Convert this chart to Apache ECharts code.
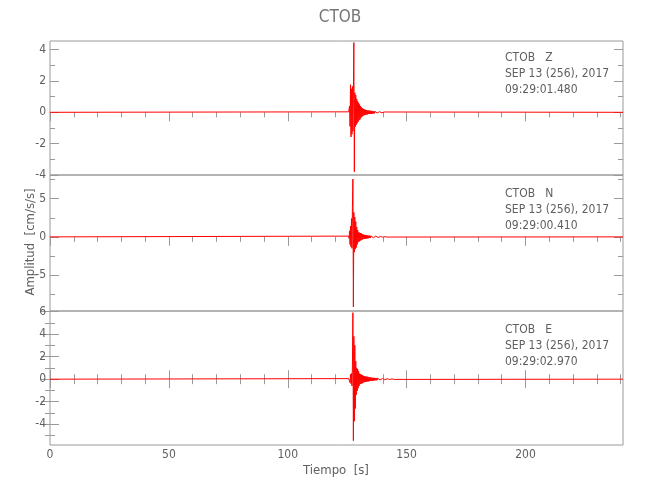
<!DOCTYPE html>
<html><head><meta charset="utf-8">
<script src="https://cdn.jsdelivr.net/npm/echarts@6/dist/echarts.min.js"></script>
<style>html,body{margin:0;padding:0;background:#fff}#c{width:650px;height:500px}</style>
</head><body><div id="c"></div>
<script>
// ---- data ----
const stationName = 'CTOB';
const components = ['Z', 'N', 'E'];
const dateLabel = 'SEP 13 (256), 2017';
const startTimes = ['09:29:01.480', '09:29:00.410', '09:29:02.970'];
const timeRange = [0, 241];
const sampleStart = 125.6;   // s, first hand-read sample of the burst
const sampleStep = 0.2;      // s
const zValues = [0.03,-0.05,0.4,-0.9,1.76,-1.57,1.5,-1.4,1.65,-1.2,1.3,4.45,-3.79,1.25,-0.92,1.1,-0.8,0.85,-0.7,0.7,-0.6,0.6,-0.5,0.5,-0.45,0.4,-0.35,0.32,-0.28,0.26,-0.24,0.22,-0.2,0.19,-0.17,0.16,-0.15,0.15,-0.14,0.13,-0.13,0.12,-0.11,0.11,-0.1,0.1,-0.09,0.1,-0.09,0.08,-0.08,0.08,-0.07,0.07,-0.07,0.06,-0.06,0.06,-0.06,0.05,-0.05,0.05,-0.05,0.04,-0.04,0.04,-0.04,0.04,-0.03,0.03,-0.03,0.03,-0.03,0.02,-0.02,0.02,-0.02,0.02];
const nValues = [0.1,-0.2,0.8,-1.0,1.4,-1.3,2.4,-1.5,3.87,7.56,-9.17,3.2,-2.0,2.6,-1.6,2.0,-1.4,1.3,-1.0,0.9,-0.7,0.6,-0.55,0.55,-0.5,0.5,-0.45,0.45,-0.4,0.35,-0.3,0.3,-0.28,0.27,-0.26,0.26,-0.25,0.24,-0.22,0.2,-0.2,0.18,-0.17,0.16,-0.15,0.15,-0.14,0.13,-0.13,0.13,-0.12,0.12,-0.12,0.11,-0.11,0.1,-0.1,0.1,-0.09,0.09,-0.09,0.08,-0.08,0.08,-0.07,0.07,-0.07,0.07,-0.06,0.06,-0.06,0.06,-0.05,0.05,-0.05,0.05,-0.05,0.04,-0.04,0.04,-0.04,0.04,-0.03,0.03,-0.03,0.03,-0.03,0.02,-0.02,0.02];
const eValues = [0.05,-0.1,0.2,-0.3,0.44,-0.4,0.5,-0.6,1.2,5.9,-5.46,3.8,-3.73,3.0,-2.6,1.6,-1.4,1.0,-1.05,0.9,-0.8,0.7,-0.6,0.5,-0.44,0.44,-0.42,0.4,-0.38,0.36,-0.34,0.3,-0.28,0.26,-0.25,0.24,-0.24,0.23,-0.22,0.22,-0.2,0.2,-0.19,0.18,-0.17,0.16,-0.15,0.15,-0.14,0.13,-0.13,0.12,-0.12,0.12,-0.11,0.11,-0.1,0.1,-0.1,0.09,-0.09,0.09,-0.08,0.08,-0.08,0.07,-0.07,0.07,-0.07,0.06,-0.06,0.06,-0.06,0.06,-0.05,0.05,-0.05,0.05,-0.05,0.04,-0.04,0.04,-0.04,0.04,-0.04,0.03,-0.03,0.03,-0.03,0.03,-0.03,0.03,-0.02,0.02,-0.02,0.02,-0.02,0.02,-0.02,0.02,-0.02];
const yRanges = [[-4, 4.55], [-9.7, 8.1], [-5.84, 6.05]];
const yMajorTicks = [[-4,-2,0,2,4], [-5,0,5], [-4,-2,0,2,4,6]];
const yMinorTicks = [[-3,-1,1,3], [-7.5,-2.5,2.5,7.5], [-5,-3,-1,1,3,5]];
const xMajorTicks = [0,50,100,150,200];
const xMinorTicks = [10,20,30,40,60,70,80,90,110,120,130,140,160,170,180,190,210,220,230,240];

// ---- layout / style ----
const FONT = '"Liberation Sans Narrow","DejaVu Sans Condensed","DejaVu Sans",sans-serif';
const AX = '#9a9a9a', TXT = '#606060';
const grids = [
  {left:50, top:41, width:573, height:134},
  {left:50, top:175, width:573, height:136},
  {left:50, top:311, width:573, height:134}
];
const traces = [zValues, nValues, eValues];

function traceData(vals){
  const d = [[timeRange[0], 0]];
  vals.forEach((v,i)=>d.push([sampleStart + i*sampleStep, v]));
  d.push([timeRange[1], 0]);
  return d;
}
function xAx(g, pos, ticks, len, labels){
  return {type:'value', gridIndex:g, position:pos, min:timeRange[0], max:timeRange[1],
    axisLine:{show:false}, splitLine:{show:false},
    axisTick:{show:true, inside:true, length:len, lineStyle:{color:AX,width:1}, customValues:ticks},
    axisLabel:{show:!!labels, customValues:ticks, color:TXT, fontFamily:FONT, fontSize:12, margin:4}};
}
function yAx(g, pos, ticks, len, labels){
  return {type:'value', gridIndex:g, position:pos, min:yRanges[g][0], max:yRanges[g][1],
    axisLine:{show:false}, splitLine:{show:false},
    axisTick:{show:true, inside:true, length:len, lineStyle:{color:AX,width:1}, customValues:ticks},
    axisLabel:{show:!!labels, customValues:ticks, color:TXT, fontFamily:FONT, fontSize:12, margin:4}};
}
const xAxes = [], yAxes = [], series = [];
grids.forEach((gr,g)=>{
  const xi = xAxes.length;
  xAxes.push(xAx(g,'top',xMajorTicks,9,false));
  xAxes.push(xAx(g,'top',xMinorTicks,5,false));
  if (g === 2) {
    xAxes.push(xAx(g,'bottom',xMajorTicks,9,true));
    xAxes.push(xAx(g,'bottom',xMinorTicks,5,false));
  }
  const yi = yAxes.length;
  yAxes.push(yAx(g,'left',yMajorTicks[g],9,true));
  yAxes.push(yAx(g,'left',yMinorTicks[g],5,false));
  yAxes.push(yAx(g,'right',yMajorTicks[g],9,false));
  yAxes.push(yAx(g,'right',yMinorTicks[g],5,false));
  series.push({type:'line', xAxisIndex:xi, yAxisIndex:yi, data:traceData(traces[g]),
    showSymbol:false, symbol:'none', clip:true, silent:true,
    lineStyle:{color:'#ff0000', width:1}});
});

const annot = [];
const annotY = [59, 195, 331];
components.forEach((c,i)=>{
  [stationName + '   ' + c, dateLabel, startTimes[i]].forEach((s,k)=>{
    annot.push({type:'text', left:505, top:annotY[i] - 7 + k*16,
      style:{text:s, fill:TXT, font:'12px ' + FONT}});
  });
});
annot.push({type:'text', x:340, y:18, style:{text:stationName, fill:'#777', font:'17px ' + FONT, align:'center', verticalAlign:'middle'}});
annot.push({type:'text', x:336, y:471, style:{text:'Tiempo  [s]', fill:TXT, font:'13px ' + FONT, align:'center', verticalAlign:'middle'}});
annot.push({type:'text', x:31, y:242, rotation:Math.PI/2, style:{text:'Amplitud  [cm/s/s]', fill:TXT, font:'13px ' + FONT, align:'center', verticalAlign:'middle'}});

const chart = echarts.init(document.getElementById('c'), null, {renderer:'canvas'});
chart.setOption({
  animation:false,
  backgroundColor:'#fff',
  grid: grids.map(g=>Object.assign({show:true, borderColor:AX, borderWidth:1, backgroundColor:'transparent', containLabel:false}, g)),
  xAxis: xAxes, yAxis: yAxes, series: series,
  graphic: annot
});
</script></body></html>
